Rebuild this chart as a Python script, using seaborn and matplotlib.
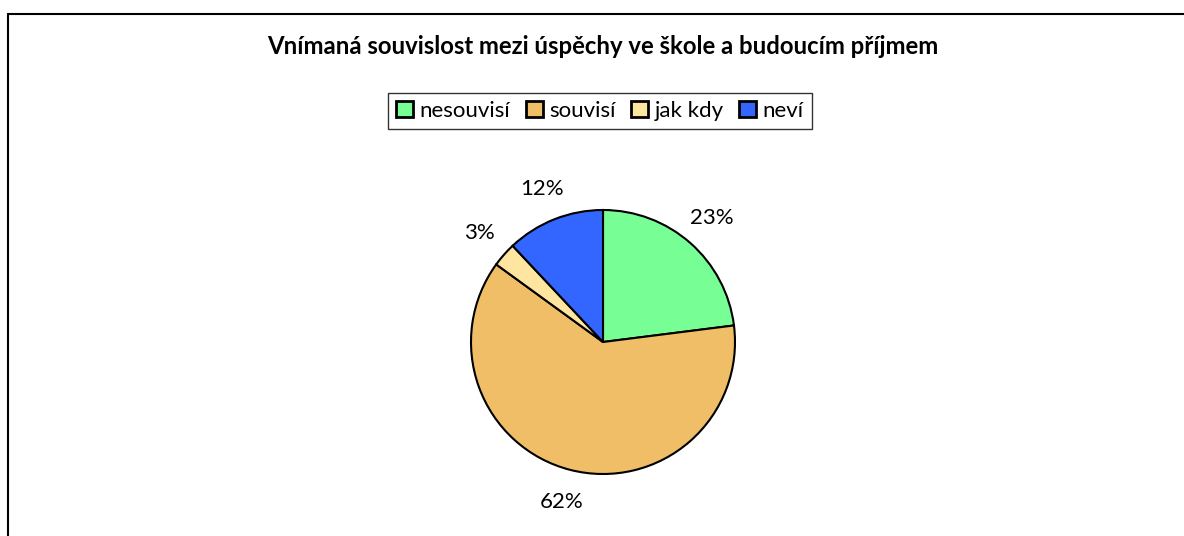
import matplotlib
matplotlib.use("Agg")
import matplotlib.pyplot as plt
import seaborn as sns
from matplotlib.lines import Line2D

# data
kategorie = ['nesouvisí', 'souvisí', 'jak kdy', 'neví']
podily = [23, 62, 3, 12]
barvy = ['#77FF95', '#EFBE66', '#FFE6A0', '#3366FF']
titulek = 'Vnímaná souvislost mezi úspěchy ve škole a budoucím příjmem'

sns.set_theme(style="white")
plt.rcParams['font.family'] = ['Lato', 'DejaVu Sans']
plt.rcParams['text.color'] = 'black'

W, H = 1184, 536
fig = plt.figure(figsize=(W / 100, H / 100), dpi=100)

# pie axes: center (603, 342), radius 132 px
lim = 1.5
size = 132 * lim * 2
cx, cy = 603, 342
ax = fig.add_axes([(cx - size / 2) / W, (H - cy - size / 2) / H, size / W, size / H])
wedges, texts, autotexts = ax.pie(
    podily, colors=barvy, startangle=90, counterclock=False,
    autopct='%.0f%%', pctdistance=1.25,
    wedgeprops={'edgecolor': 'black', 'linewidth': 1.5},
    textprops={'fontsize': 16, 'color': 'black'}
)
ax.set_xlim(-lim, lim)
ax.set_ylim(-lim, lim)
ax.set_aspect('equal')
ax.axis('off')

fig.text(603 / W, 1 - 47 / H, titulek, ha='center', va='center',
         fontsize=17.2, fontweight='bold', color='black')

leg = fig.legend(wedges, kategorie, loc='center', bbox_to_anchor=(600 / W, 1 - 111 / H),
                 ncol=4, fontsize=16, frameon=True, fancybox=False,
                 handlelength=0.75, handleheight=0.75, handletextpad=0.3,
                 columnspacing=0.7, borderpad=0.35)
leg.get_frame().set_edgecolor('black')
leg.get_frame().set_linewidth(1.0)
for h in leg.legend_handles:
    h.set_linewidth(2.0)

# chart area border (left and top)
fig.add_artist(Line2D([8 / W, 8 / W], [0, 1 - 14 / H], color='black', linewidth=1.5))
fig.add_artist(Line2D([8 / W, 1], [1 - 14 / H, 1 - 14 / H], color='black', linewidth=1.5))

plt.savefig('out.png', dpi=100)
